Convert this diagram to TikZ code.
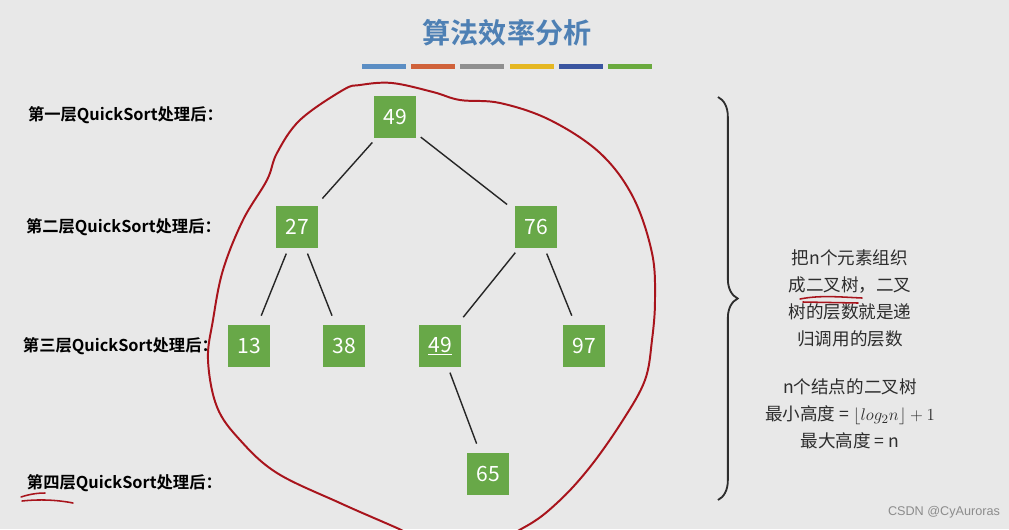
\documentclass[tikz,border=0pt]{standalone}
\usepackage{fontspec}
\setmainfont{Noto Sans CJK SC}[BoldFont={Noto Sans CJK SC Bold}]
\newfontfamily\wmfont{Liberation Sans}
\usetikzlibrary{decorations.pathreplacing}
\definecolor{bgGray}{RGB}{232,232,232}
\definecolor{titleBlue}{RGB}{78,128,180}
\definecolor{nodeGreen}{RGB}{104,168,72}
\definecolor{penRed}{RGB}{168,20,28}
\definecolor{textGray}{RGB}{45,45,45}
\begin{document}
\begin{tikzpicture}[x=0.025cm,y=-0.025cm,
  every node/.style={outer sep=0pt, inner sep=0pt},
  elem/.style={fill=nodeGreen, text=white, minimum size=1.05cm, font=\fontsize{15}{15}\selectfont},
  lvl/.style={anchor=west, font=\bfseries\fontsize{11.6}{12}\selectfont},
  edge/.style={line width=1pt, color=black!85, shorten <=0.15cm, shorten >=0.25cm},
  pen/.style={penRed, line width=1.4pt, line cap=round, line join=round}]
\fill[bgGray] (0,0) rectangle (1009,529);
\useasboundingbox (0,0) rectangle (1009,529);
% title and colour bars
\node[text=titleBlue, font=\bfseries\fontsize{20}{20}\selectfont] (title) at (507,33) {算法效率分析};
\foreach \c [count=\i from 0] in {{rgb,255:red,91;green,142;blue,196},{rgb,255:red,208;green,98;blue,58},{rgb,255:red,143;green,143;blue,143},{rgb,255:red,229;green,183;blue,34},{rgb,255:red,58;green,85;blue,160},{rgb,255:red,106;green,170;blue,62}}
  \fill[fill=\c] ({362+49.2*\i},64) rectangle ++(44,5);
% level labels
\node[lvl] (l1) at (28,115) {第一层QuickSort处理后：};
\node[lvl] (l2) at (26,227) {第二层QuickSort处理后：};
\node[lvl] (l3) at (23,346) {第三层QuickSort处理后：};
\node[lvl] (l4) at (27,483) {第四层QuickSort处理后：};
% tree
\node[elem] (n49) at (395,117) {49};
\node[elem] (n27) at (297,227) {27};
\node[elem] (n76) at (536,227) {76};
\node[elem] (n13) at (249,346) {13};
\node[elem] (n38) at (344,346) {38};
\node[elem] (m49) at (440,346) {\underline{49}};
\node[elem] (n97) at (584,346) {97};
\node[elem] (n65) at (488,474) {65};
\draw[edge] (n49) -- (n27);
\draw[edge] (n49) -- (n76);
\draw[edge] (n27) -- (n13);
\draw[edge] (n27) -- (n38);
\draw[edge] (n76) -- (m49);
\draw[edge] (n76) -- (n97);
\draw[edge] (m49) -- (n65);
% red loop round the tree
\draw[pen] plot[smooth cycle, tension=0.6] coordinates {(360,85) (392,83) (433,92) (460,100) (500,103) (550,120) (600,153) (633,197) (652,253) (655,300) (652,340) (645,380) (623,420) (590,467) (557,503) (523,528) (460,556) (397,528) (340,503) (277,473) (240,440) (217,407) (208,360) (213,320) (223,270) (243,220) (267,180) (277,153) (300,120) (343,90)};
% brace
\draw[textGray, line width=1.3pt, decorate, decoration={brace, amplitude=14}] (718,97) -- (718,500);
% notes
\node[text=textGray, align=center, font=\fontsize{12.5}{19.2}\selectfont] (note1) at (850,298) {把n个元素组织\\成二叉树，二叉\\树的层数就是递\\归调用的层数};
\node[text=textGray, align=center, font=\fontsize{12.5}{19.2}\selectfont] (note2) at (850,414) {n个结点的二叉树\\最小高度 = $\lfloor log_2 n\rfloor + 1$\\最大高度 = n};
% red marks
\draw[pen, line width=1.1pt] (800,299) .. controls (820,295) and (840,297) .. (862,298);
\draw[pen, line width=1.1pt] (803,302) -- (858,303);
\draw[pen, line width=1.1pt] (21,497) .. controls (30,494) and (38,493) .. (45,493);
\draw[pen, line width=1.1pt] (22,501) .. controls (40,499) and (58,500) .. (73,503);
% watermark
\node[text=black!45, font=\wmfont\fontsize{9}{9}\selectfont, anchor=east] (wm) at (1000,512) {CSDN @CyAuroras};
\end{tikzpicture}
\end{document}
